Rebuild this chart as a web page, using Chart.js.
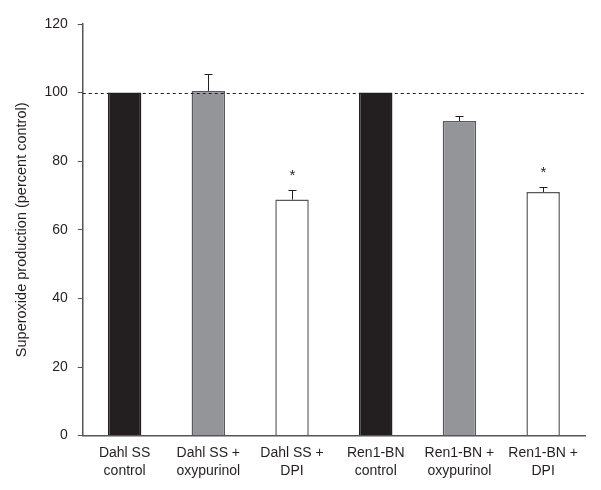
<!DOCTYPE html>
<html>
<head>
<meta charset="utf-8">
<script src="https://cdn.jsdelivr.net/npm/chart.js@4"></script>
<style>
html,body{margin:0;padding:0;background:#fff;}
#wrap{width:601px;height:490px;position:relative;}
</style>
</head>
<body>
<div id="wrap"><canvas id="c" width="601" height="490"></canvas></div>
<script>
const categories = [
  ['Dahl SS','control'],
  ['Dahl SS +','oxypurinol'],
  ['Dahl SS +','DPI'],
  ['Ren1-BN','control'],
  ['Ren1-BN +','oxypurinol'],
  ['Ren1-BN +','DPI']
];
const values = [100, 100.5, 68.8, 100, 91.7, 71.0];
const errors = [0, 4.8, 2.8, 0, 1.6, 1.4];
const significance = ['', '', '*', '', '', '*'];
const yTicks = [0, 20, 40, 60, 80, 100, 120];
const referenceLine = 100;
const barColors = ['#231f20', '#939598', '#ffffff', '#231f20', '#939598', '#ffffff'];
const borderColors = ['#231f20', '#58595b', '#58595b', '#231f20', '#58595b', '#58595b'];

const FONT = '"Liberation Sans", Arial, Helvetica, sans-serif';
const INK = '#231f20';

const extras = {
  id: 'extras',
  afterDatasetsDraw(chart) {
    const ctx = chart.ctx;
    const y = chart.scales.y;
    const area = chart.chartArea;
    const meta = chart.getDatasetMeta(0);
    ctx.save();
    ctx.strokeStyle = INK;
    ctx.lineWidth = 1;
    ctx.setLineDash([3, 3]);
    const ry = Math.round(y.getPixelForValue(referenceLine)) + 0.5;
    ctx.beginPath();
    ctx.moveTo(area.left, ry);
    ctx.lineTo(area.right, ry);
    ctx.stroke();
    ctx.setLineDash([]);
    meta.data.forEach((bar, i) => {
      const cx = Math.round(bar.x) + 0.5;
      const top = y.getPixelForValue(values[i]);
      const et = y.getPixelForValue(values[i] + errors[i]);
      if (errors[i] > 0) {
        ctx.strokeStyle = INK;
        ctx.lineWidth = 1;
        ctx.beginPath();
        ctx.moveTo(cx, top);
        ctx.lineTo(cx, Math.round(et) + 0.5);
        ctx.moveTo(cx - 4, Math.round(et) + 0.5);
        ctx.lineTo(cx + 4, Math.round(et) + 0.5);
        ctx.stroke();
      }
      if (significance[i]) {
        ctx.fillStyle = INK;
        ctx.font = '15px ' + FONT;
        ctx.textAlign = 'center';
        ctx.textBaseline = 'alphabetic';
        ctx.fillText(significance[i], cx, et - 10);
      }
    });
    ctx.restore();
  }
};

new Chart(document.getElementById('c'), {
  type: 'bar',
  data: {
    labels: categories,
    datasets: [{
      data: values,
      backgroundColor: barColors,
      borderColor: borderColors,
      borderWidth: 1.5,
      barPercentage: 0.4,
      categoryPercentage: 1.0
    }]
  },
  options: {
    responsive: false,
    animation: false,
    devicePixelRatio: 1,
    layout: { padding: { top: 24, right: 16, left: 13, bottom: 2 } },
    plugins: { legend: { display: false }, tooltip: { enabled: false } },
    scales: {
      x: {
        grid: { display: false, drawTicks: false },
        border: { color: '#555', width: 1.5 },
        ticks: { color: INK, font: { family: FONT, size: 14, lineHeight: 1.3 }, padding: 8, maxRotation: 0, autoSkip: false }
      },
      y: {
        min: 0, max: 120,
        afterBuildTicks(axis) { axis.ticks = yTicks.map(v => ({ value: v })); },
        grid: { drawOnChartArea: false, tickLength: 5, color: '#555' },
        border: { color: '#555', width: 1.5 },
        ticks: { color: INK, font: { family: FONT, size: 14 }, padding: 10 },
        title: { display: true, text: 'Superoxide production (percent control)', color: INK, font: { family: FONT, size: 14.5 }, padding: { top: 0, bottom: 4 } }
      }
    }
  },
  plugins: [extras]
});
</script>
</body>
</html>
